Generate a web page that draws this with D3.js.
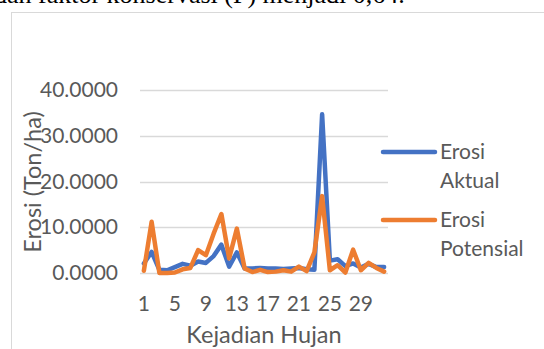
<!DOCTYPE html>
<html>
<head>
<meta charset="utf-8">
<script src="https://cdn.jsdelivr.net/npm/d3@7"></script>
<style>
  html, body { margin: 0; padding: 0; background: #fff; overflow: hidden; }
  svg { display: block; }
</style>
</head>
<body>
<svg id="chart" width="544" height="349"></svg>
<script>
// Rainfall events 1..32
const kejadian = d3.range(1, 33).map(String);

// Erosion per rainfall event (Ton/ha)
const erosiAktual = [2.1, 4.6, 0.7, 0.6, 1.3, 2.0, 1.6, 2.5, 2.2, 3.7, 6.2, 1.4, 4.5, 1.0, 1.0, 1.1,
                     1.0, 1.0, 0.9, 1.0, 1.1, 0.8, 0.7, 34.7, 2.7, 3.0, 1.5, 2.1, 1.2, 2.0, 1.3, 1.3];
const erosiPotensial = [0.5, 11.2, 0.0, 0.0, 0.1, 0.8, 1.1, 5.0, 3.9, 8.6, 12.9, 3.2, 9.7, 1.0, 0.2, 0.7,
                        0.2, 0.3, 0.6, 0.3, 1.4, 0.4, 4.5, 16.8, 0.6, 1.7, 0.1, 5.1, 0.6, 2.2, 1.1, 0.3];

const yTicks = [0, 10, 20, 30, 40];
const xTickLabels = ["1", "5", "9", "13", "17", "21", "25", "29"];

const seriesNames = [["Erosi", "Aktual"], ["Erosi", "Potensial"]];
const seriesColors = ["#4472C4", "#ED7D31"];

const svg = d3.select("#chart");
const textColor = "#595959";
const font = "Lato, 'Open Sans', sans-serif";
const labelSize = 21;
const titleSize = 23.5;

// Paragraph line above the chart frame
svg.append("text")
  .attr("x", -6).attr("y", 3)
  .attr("font-family", "'Liberation Serif', 'Times New Roman', serif")
  .attr("font-size", 26)
  .attr("fill", "#000")
  .text("dan faktor konservasi (P) menjadi 0,64.");

// Chart frame
svg.append("rect")
  .attr("x", 11.5).attr("y", 12.5)
  .attr("width", 600).attr("height", 400)
  .attr("fill", "#fff")
  .attr("stroke", "#D9D9D9").attr("stroke-width", 1);

const plot = { left: 140, right: 388, top: 90, bottom: 273 };

const x = d3.scaleBand().domain(kejadian).range([plot.left, plot.right]);
const y = d3.scaleLinear().domain([0, 40]).range([plot.bottom, plot.top]);
const cx = d => x(d) + x.bandwidth() / 2;

// Gridlines
svg.append("g")
  .selectAll("line")
  .data(yTicks)
  .join("line")
  .attr("x1", plot.left).attr("x2", plot.right)
  .attr("y1", d => Math.round(y(d)) + 0.5).attr("y2", d => Math.round(y(d)) + 0.5)
  .attr("stroke", "#D9D9D9").attr("stroke-width", 1.3);

// Y axis labels
const yAxis = d3.axisLeft(y).tickValues(yTicks).tickSize(0).tickPadding(0)
  .tickFormat(d => d3.format(".4f")(d));
svg.append("g")
  .attr("transform", `translate(${plot.left - 22},0)`)
  .call(yAxis)
  .call(g => g.select(".domain").remove())
  .call(g => g.selectAll("text")
    .attr("font-family", font).attr("font-size", labelSize).attr("fill", textColor));

// X axis labels
const xAxis = d3.axisBottom(x).tickValues(xTickLabels).tickSize(0).tickPadding(0);
svg.append("g")
  .attr("transform", `translate(0,${plot.bottom + 23})`)
  .call(xAxis)
  .call(g => g.select(".domain").remove())
  .call(g => g.selectAll("text")
    .attr("font-family", font).attr("font-size", labelSize).attr("fill", textColor));

// Axis titles
svg.append("text")
  .attr("transform", `translate(41,182) rotate(-90)`)
  .attr("text-anchor", "middle")
  .attr("font-family", font).attr("font-size", titleSize).attr("fill", textColor)
  .text("Erosi (Ton/ha)");

svg.append("text")
  .attr("x", 264).attr("y", 343)
  .attr("text-anchor", "middle")
  .attr("font-family", font).attr("font-size", titleSize).attr("fill", textColor)
  .text("Kejadian Hujan");

// Series lines
const line = d3.line()
  .x((d, i) => cx(kejadian[i]))
  .y(d => y(d));

[erosiAktual, erosiPotensial].forEach((vals, k) => {
  svg.append("path")
    .datum(vals)
    .attr("d", line)
    .attr("fill", "none")
    .attr("stroke", seriesColors[k])
    .attr("stroke-width", 4.5)
    .attr("stroke-linejoin", "round")
    .attr("stroke-linecap", "round");
});

// Legend
const legendY = [152, 220];
seriesNames.forEach((names, k) => {
  const g = svg.append("g");
  g.append("line")
    .attr("x1", 383).attr("x2", 435)
    .attr("y1", legendY[k]).attr("y2", legendY[k])
    .attr("stroke", seriesColors[k]).attr("stroke-width", 4.5)
    .attr("stroke-linecap", "round");
  names.forEach((t, j) => {
    g.append("text")
      .attr("x", 440).attr("y", legendY[k] + 7 + j * 29)
      .attr("font-family", font).attr("font-size", labelSize).attr("fill", textColor)
      .text(t);
  });
});
</script>
</body>
</html>
